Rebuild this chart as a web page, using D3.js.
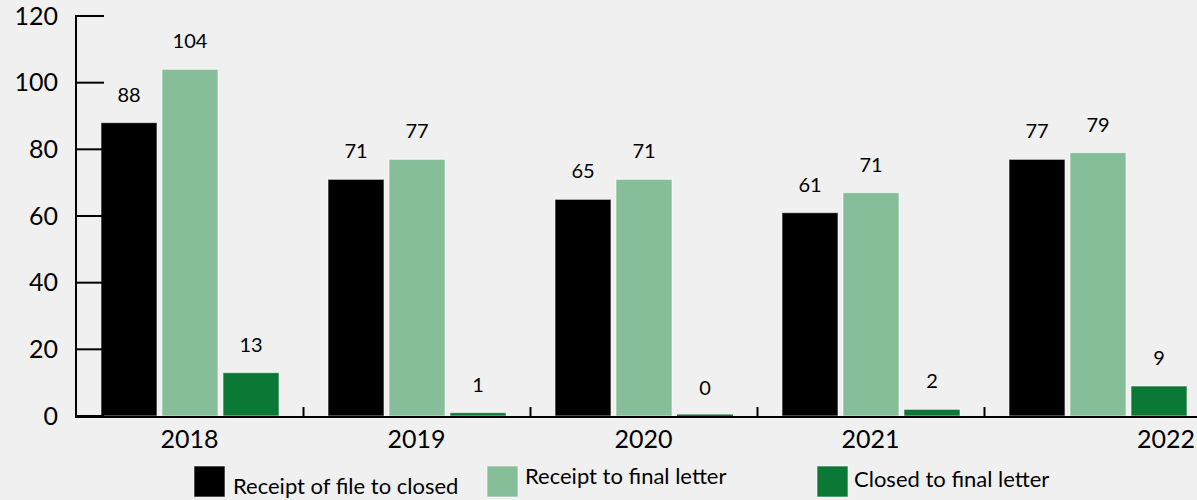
<!DOCTYPE html>
<html><head><meta charset="utf-8">
<script src="https://cdn.jsdelivr.net/npm/d3@7"></script>
<style>html,body{margin:0;padding:0;background:#f0f0f0;}svg{display:block;font-family:Lato, "Open Sans", sans-serif;}</style>
</head><body>
<svg id="chart" width="1197" height="500"></svg>
<script>
const years = ["2018","2019","2020","2021","2022"];
const seriesNames = ["Receipt of file to closed","Receipt to final letter","Closed to final letter"];
const receiptToClosed = [88,71,65,61,77];
const receiptToFinal = [104,77,71,67,79];
const closedToFinal = [13,1,0,2,9];
const labelsReceiptToClosed = ["88","71","65","61","77"];
const labelsReceiptToFinal = ["104","77","71","71","79"];
const labelsClosedToFinal = ["13","1","0","2","9"];
const yTicks = [0,20,40,60,80,100,120];
const colors = ["#000000","#86be9a","#0c7836"];

const series = [receiptToClosed, receiptToFinal, closedToFinal];
const seriesLabels = [labelsReceiptToClosed, labelsReceiptToFinal, labelsClosedToFinal];

const svg = d3.select("#chart");
const W = 1197;
const x0 = d3.scaleBand().domain(years).range([76, 76 + 227*5]).padding(0);
const x1 = d3.scaleBand().domain([0,1,2]).range([25, 203]).paddingInner(0.082).paddingOuter(0);
const y = d3.scaleLinear().domain([0,120]).range([416,16]);

// bars
const groups = svg.append("g").selectAll("g").data(years).join("g")
  .attr("transform", d => `translate(${x0(d)},0)`);
groups.each(function(yr, i){
  const g = d3.select(this);
  series.forEach((s, k) => {
    const v = s[i];
    g.append("rect")
      .attr("x", x1(k)).attr("width", x1.bandwidth())
      .attr("y", v === 0 ? y(0) - 1.5 : y(v)).attr("height", v === 0 ? 1.5 : y(0) - y(v))
      .attr("fill", colors[k])
      .attr("stroke", "#ffffff").attr("stroke-opacity", 0.6).attr("stroke-width", v === 0 ? 0 : 1);
    g.append("text")
      .attr("x", x1(k) + x1.bandwidth()/2).attr("y", y(v) - 21)
      .attr("text-anchor","middle").attr("font-size", 20).attr("fill","#000")
      .text(seriesLabels[k][i]);
  });
});

// y axis
const yAxis = svg.append("g");
yAxis.append("line").attr("x1",76).attr("x2",76).attr("y1",y(120)-1).attr("y2",y(0)+1)
  .attr("stroke","#000").attr("stroke-width",2);
yAxis.selectAll("line.t").data(yTicks).join("line").attr("class","t")
  .attr("x1",76).attr("x2",104).attr("y1",d=>y(d)).attr("y2",d=>y(d))
  .attr("stroke","#000").attr("stroke-width",2);
yAxis.selectAll("text").data(yTicks).join("text")
  .attr("x",58).attr("y",d=>y(d)).attr("dy","0.35em")
  .attr("text-anchor","end").attr("font-size",25).attr("fill","#000")
  .text(d=>d);

// x axis
const xAxis = svg.append("g");
xAxis.append("line").attr("x1",75).attr("x2",W).attr("y1",417).attr("y2",417)
  .attr("stroke","#000").attr("stroke-width",2);
xAxis.selectAll("line.t").data(years.slice(1)).join("line").attr("class","t")
  .attr("x1",d=>x0(d)+0.5).attr("x2",d=>x0(d)+0.5).attr("y1",417).attr("y2",407)
  .attr("stroke","#000").attr("stroke-width",2);
xAxis.selectAll("text").data(years).join("text")
  .attr("x",(d,i)=> i === years.length-1 ? W-2 : x0(d)+x0.bandwidth()/2)
  .attr("text-anchor",(d,i)=> i === years.length-1 ? "end" : "middle")
  .attr("y",448).attr("font-size",25).attr("fill","#000")
  .text(d=>d);

// legend
const legendPos = [{sx:194, tx:233, ty:494},{sx:487, tx:525, ty:484},{sx:817, tx:854, ty:487}];
const leg = svg.append("g").selectAll("g").data(seriesNames).join("g");
leg.append("rect").attr("x",(d,i)=>legendPos[i].sx).attr("y",466).attr("width",31).attr("height",31)
  .attr("fill",(d,i)=>colors[i]).attr("stroke","#ffffff").attr("stroke-opacity",0.6);
leg.append("text").attr("x",(d,i)=>legendPos[i].tx).attr("y",(d,i)=>legendPos[i].ty)
  .attr("font-size",22).attr("fill","#000").text(d=>d);
</script>
</body></html>
